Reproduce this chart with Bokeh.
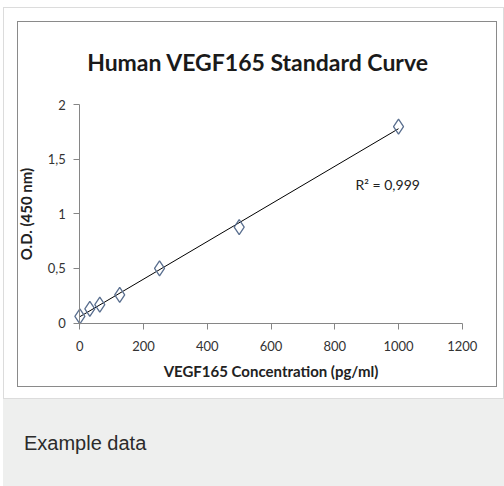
import numpy as np
from bokeh.plotting import figure
from bokeh.models import Range1d, CustomJSTickFormatter, Label, Div, FixedTicker
from bokeh.layouts import column
from bokeh.embed import file_html
from bokeh.resources import INLINE

# ---- data ----
conc = [0, 31.25, 62.5, 125, 250, 500, 1000]
od = [0.062, 0.13, 0.169, 0.258, 0.50, 0.878, 1.797]
x_ticks = [0, 200, 400, 600, 800, 1000, 1200]
y_ticks = [0, 0.5, 1, 1.5, 2]
title_text = "Human VEGF165 Standard Curve"
x_label = "VEGF165 Concentration (pg/ml)"
y_label = "O.D. (450 nm)"
r2_text = "R\u00b2 = 0,999"
caption = "Example data"

slope, intercept = np.polyfit(conc, od, 1)
fit_x = [min(conc), max(conc)]
fit_y = [intercept + slope * v for v in fit_x]

FONT = "Lato"

p = figure(width=480, height=366,
           x_range=Range1d(-192.6, 1310.6), y_range=Range1d(-0.59, 2.046),
           output_backend="svg", toolbar_location=None,
           min_border_left=0, min_border_right=1,
           min_border_top=77, min_border_bottom=1,
           styles={"border": "1px solid #8a8a8a"})
p.background_fill_color = "white"
p.border_fill_color = "white"
p.outline_line_color = None
p.grid.visible = False

p.title.text = title_text
p.title.align = "center"
p.title.offset = 0
p.title.standoff = 47
p.title.text_font = FONT
p.title.text_font_size = "23px"
p.title.text_font_style = "bold"
p.title.text_color = "#1a1a1a"

for ax in (p.xaxis[0], p.yaxis[0]):
    ax.fixed_location = 0
    ax.axis_line_color = "#868686"
    ax.major_tick_line_color = "#868686"
    ax.major_tick_out = 6
    ax.major_tick_in = 0
    ax.minor_tick_line_color = None
    ax.major_label_text_font = FONT
    ax.major_label_text_font_size = "13px"
    ax.major_label_text_color = "#333333"
    ax.axis_label_text_font = FONT
    ax.axis_label_text_font_style = "bold"
    ax.axis_label_text_color = "#222222"
    ax.formatter = CustomJSTickFormatter(code="return String(tick).replace('.', ',');")

p.xaxis.bounds = (x_ticks[0], x_ticks[-1])
p.yaxis.bounds = (y_ticks[0], y_ticks[-1])
p.xaxis.ticker = FixedTicker(ticks=x_ticks)
p.yaxis.ticker = FixedTicker(ticks=y_ticks)
p.xaxis.axis_label = x_label
p.yaxis.axis_label = y_label
p.xaxis.axis_label_text_font_size = "15px"
p.yaxis.axis_label_text_font_size = "15px"
p.xaxis.major_label_standoff = 12
p.yaxis.major_label_standoff = 8
p.xaxis.axis_label_standoff = 7
p.yaxis.axis_label_standoff = 9

p.line(fit_x, fit_y, line_color="black", line_width=1)
p.scatter(conc, od, marker="diamond", size=15, fill_alpha=0,
          line_color="#5a6f8f", line_width=1.3)

p.add_layout(Label(x=865, y=1.272, text=r2_text, text_font=FONT,
                   text_font_size="14px", text_baseline="middle",
                   text_color="#222222"))

box = column(p, margin=(7, 0, 0, 3),
             styles={"border": "1px solid #dcdcdc",
                     "padding": "13px 6px 11px 13px",
                     "background-color": "white"})

cap = Div(text=('<div style="width:501px;height:87px;box-sizing:border-box;'
                'background-color:#eeefee;padding:30px 0 0 21px;'
                "font-family:'Liberation Sans',Arial,sans-serif;font-size:20px;"
                'color:#2b2b2b;">' + caption + '</div>'),
          width=501, height=87, margin=(0, 0, 0, 3))

layout = column(box, cap)

open("out.html", "w").write(file_html(layout, INLINE))
